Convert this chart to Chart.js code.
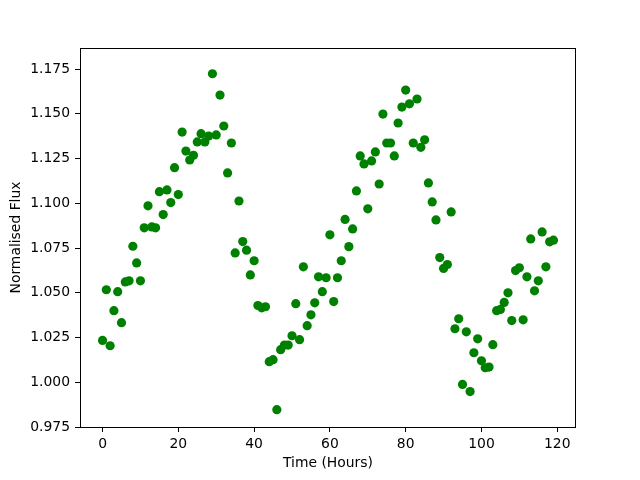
<!DOCTYPE html>
<html>
<head>
<meta charset="utf-8">
<script src="https://cdn.jsdelivr.net/npm/chart.js@4/dist/chart.umd.min.js"></script>
<style>
  body { margin: 0; background: #fff; }
</style>
</head>
<body>
<canvas id="graficoFluxo" width="640" height="480"></canvas>
<script>
// horas de observação
const horas = [
  0, 1, 2, 3, 4, 5, 6, 7, 8, 9, 10, 11, 12, 13, 14, 15, 16, 17, 18, 19,
  20, 21, 22, 23, 24, 25, 26, 27, 28, 29, 30, 31, 32, 33, 34, 35, 36, 37, 38, 39,
  40, 41, 42, 43, 44, 45, 46, 47, 48, 49, 50, 51, 52, 53, 54, 55, 56, 57, 58, 59,
  60, 61, 62, 63, 64, 65, 66, 67, 68, 69, 70, 71, 72, 73, 74, 75, 76, 77, 78, 79,
  80, 81, 82, 83, 84, 85, 86, 87, 88, 89, 90, 91, 92, 93, 94, 95, 96, 97, 98, 99,
  100, 101, 102, 103, 104, 105, 106, 107, 108, 109, 110, 111, 112, 113, 114, 115, 116, 117, 118, 119
];

// fluxo normalizado
const fluxo = [
  1.0234, 1.0517, 1.0204, 1.0400, 1.0506, 1.0333, 1.0561, 1.0567, 1.0760, 1.0667,
  1.0567, 1.0863, 1.0986, 1.0868, 1.0863, 1.1065, 1.0937, 1.1075, 1.1004, 1.1199,
  1.1049, 1.1398, 1.1292, 1.1242, 1.1268, 1.1343, 1.1389, 1.1343, 1.1376, 1.1724,
  1.1382, 1.1605, 1.1432, 1.1170, 1.1337, 1.0723, 1.1013, 1.0786, 1.0738, 1.0600,
  1.0679, 1.0429, 1.0416, 1.0422, 1.0115, 1.0126, 0.9847, 1.0182, 1.0208, 1.0208,
  1.0260, 1.0439, 1.0238, 1.0645, 1.0316, 1.0377, 1.0444, 1.0589, 1.0506, 1.0584,
  1.0824, 1.0451, 1.0584, 1.0679, 1.0910, 1.0758, 1.0857, 1.1069, 1.1265, 1.1220,
  1.0969, 1.1237, 1.1287, 1.1108, 1.1499, 1.1337, 1.1337, 1.1265, 1.1449, 1.1538,
  1.1633, 1.1556, 1.1337, 1.1583, 1.1313, 1.1355, 1.1114, 1.1008, 1.0907, 1.0697,
  1.0636, 1.0658, 1.0952, 1.0299, 1.0355, 0.9988, 1.0282, 0.9948, 1.0165, 1.0243,
  1.0120, 1.0081, 1.0085, 1.0210, 1.0400, 1.0407, 1.0446, 1.0500, 1.0345, 1.0624,
  1.0640, 1.0349, 1.0589, 1.0801, 1.0511, 1.0567, 1.0840, 1.0645, 1.0785, 1.0794
];

const ticksX = [0, 20, 40, 60, 80, 100, 120];
const ticksY = [0.975, 1.000, 1.025, 1.050, 1.075, 1.100, 1.125, 1.150, 1.175];

const fonte = { family: 'DejaVu Sans', size: 13.9 };

// moldura completa como no matplotlib
const moldura = {
  id: 'moldura',
  afterDraw(chart) {
    const { ctx, chartArea } = chart;
    ctx.save();
    ctx.strokeStyle = '#000';
    ctx.lineWidth = 1;
    ctx.strokeRect(chartArea.left + 0.5, chartArea.top + 0.5,
      chartArea.right - chartArea.left - 1, chartArea.bottom - chartArea.top);
    ctx.restore();
  }
};

const grafico = new Chart(document.getElementById('graficoFluxo'), {
  type: 'scatter',
  data: {
    datasets: [{
      label: 'Fluxo',
      data: horas.map((h, i) => ({ x: h, y: fluxo[i] })),
      backgroundColor: '#008000',
      borderWidth: 0,
      pointRadius: 4.6,
      pointHoverRadius: 4.6
    }]
  },
  options: {
    responsive: false,
    animation: false,
    events: [],
    layout: { padding: { top: 48, right: 64, left: 0, bottom: 0 } },
    plugins: { legend: { display: false }, tooltip: { enabled: false } },
    scales: {
      x: {
        type: 'linear',
        min: -5.95,
        max: 124.95,
        afterBuildTicks: (scale) => { scale.ticks = ticksX.map(v => ({ value: v })); },
        afterFit: (scale) => { scale.height = 53; },
        grid: { drawOnChartArea: false, drawTicks: true, tickLength: 5, color: '#000' },
        border: { display: false },
        ticks: { color: '#000', font: fonte, padding: 4, maxRotation: 0,
          callback: (v) => String(v) },
        title: { display: true, text: 'Time (Hours)', color: '#000', font: fonte,
          padding: { top: 0, bottom: 8 } }
      },
      y: {
        min: 0.975,
        max: 1.1868,
        afterBuildTicks: (scale) => { scale.ticks = ticksY.map(v => ({ value: v })); },
        afterFit: (scale) => { scale.width = 80; },
        grid: { drawOnChartArea: false, drawTicks: true, tickLength: 5, color: '#000' },
        border: { display: false },
        ticks: { color: '#000', font: fonte, padding: 5,
          callback: (v) => Number(v).toFixed(3) },
        title: { display: true, text: 'Normalised Flux', color: '#000', font: fonte,
          padding: { top: 8, bottom: 0 } }
      }
    }
  },
  plugins: [moldura]
});
</script>
</body>
</html>
